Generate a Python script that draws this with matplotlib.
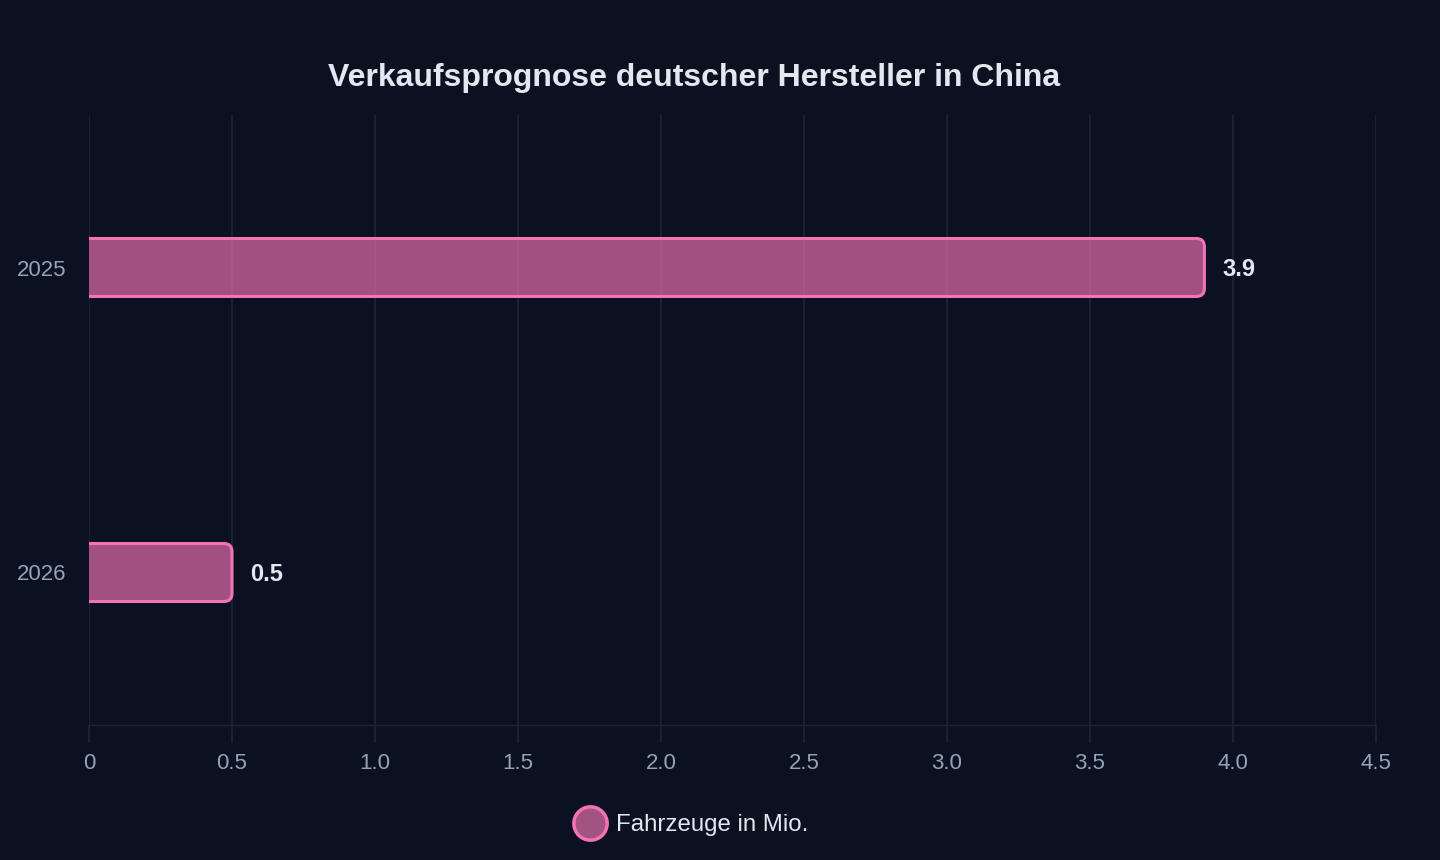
import matplotlib
matplotlib.use("Agg")
import matplotlib.pyplot as plt
from matplotlib.patches import FancyBboxPatch
from matplotlib.lines import Line2D

# data
years = ["2025", "2026"]
sales_mio = [3.9, 0.5]
x_ticks = [0, 0.5, 1.0, 1.5, 2.0, 2.5, 3.0, 3.5, 4.0, 4.5]
x_tick_labels = ["0", "0.5", "1.0", "1.5", "2.0", "2.5", "3.0", "3.5", "4.0", "4.5"]
series_name = "Fahrzeuge in Mio."
title = "Verkaufsprognose deutscher Hersteller in China"

BG = "#0b1120"
PINK = "#f472b6"
GRID = "#1c2536"
TICK = "#94a3b8"
TEXT = "#e2e8f0"

plt.rcParams["font.family"] = ["Liberation Sans", "DejaVu Sans"]

fig = plt.figure(figsize=(14.4, 8.6), dpi=100, facecolor=BG)
ax = fig.add_axes([89 / 1440, 1 - 725 / 860, (1376 - 89) / 1440, (725 - 115) / 860])
ax.set_facecolor(BG)

ax.set_xlim(0, 4.5)
ax.set_ylim(len(years) - 0.5, -0.5)

bar_h = 0.19
for i, v in enumerate(sales_mio):
    # start slightly left of 0 so the left rounded corners are clipped away
    box = FancyBboxPatch((-0.05, i - bar_h / 2), v + 0.05, bar_h,
                         boxstyle="round,pad=0,rounding_size=0.028",
                         mutation_aspect=286 / 305,
                         facecolor=PINK, alpha=0.65, edgecolor="none", zorder=3)
    ax.add_patch(box)
    edge = FancyBboxPatch((-0.05, i - bar_h / 2), v + 0.05, bar_h,
                          boxstyle="round,pad=0,rounding_size=0.028",
                          mutation_aspect=286 / 305,
                          facecolor="none", edgecolor=PINK, linewidth=2.2, zorder=4)
    ax.add_patch(edge)
    ax.text(v + 0.062, i + 0.005, f"{v:.1f}", ha="left", va="center",
            fontsize=17, fontweight="bold", color=TEXT, zorder=5)

ax.set_yticks(range(len(years)))
ax.set_yticklabels(years)
ax.set_xticks(x_ticks)
ax.set_xticklabels(x_tick_labels)

ax.grid(axis="x", color=GRID, linewidth=1.2, zorder=0)
ax.set_axisbelow(True)
for s in ["top", "right", "left"]:
    ax.spines[s].set_visible(False)
ax.spines["bottom"].set_color(GRID)
ax.spines["bottom"].set_linewidth(1.0)

ax.tick_params(axis="x", colors=TICK, labelsize=16, length=13, width=1.2,
               color=GRID, pad=7)
ax.tick_params(axis="y", colors=TICK, labelsize=16, length=0, pad=16)

fig.text(694 / 1440, 1 - 78 / 860, title, ha="center", va="center",
         fontsize=23, fontweight="bold", color=TEXT)

handle = Line2D([], [], marker="o", linestyle="none", markersize=24,
                markerfacecolor=(0xa3 / 255, 0x53 / 255, 0x7f / 255),
                markeredgecolor=PINK, markeredgewidth=2.5)
fig.legend([handle], [series_name], loc="center", bbox_to_anchor=(692 / 1440, 1 - 825 / 860),
           frameon=False, fontsize=17.3, labelcolor=TEXT, handletextpad=0.45,
           handlelength=1.2)

fig.savefig("out.png", dpi=100, facecolor=BG)
